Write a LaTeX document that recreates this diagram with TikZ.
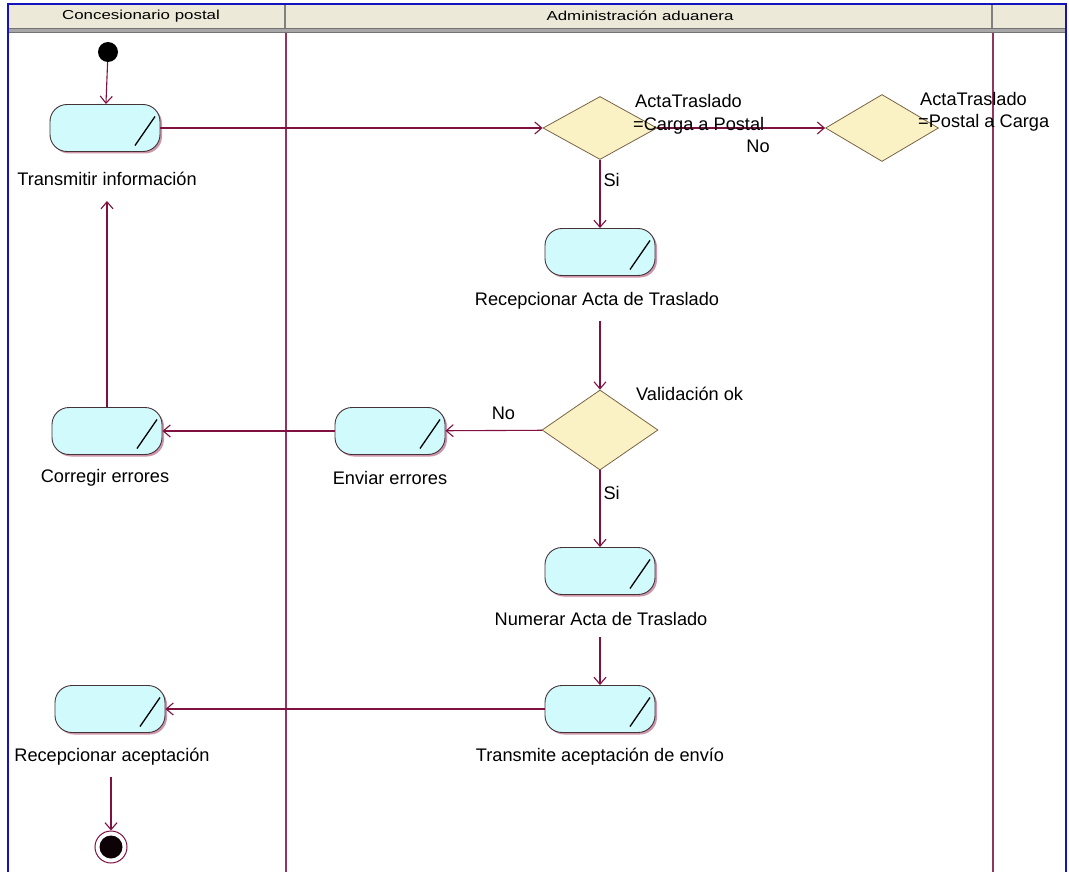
\documentclass[tikz,border=0pt]{standalone}
\usepackage{fontspec}
\setmainfont{Liberation Sans}
\usetikzlibrary{shapes.geometric,arrows.meta,shadows}
\definecolor{edgecol}{RGB}{128,16,64}
\definecolor{actfill}{RGB}{208,250,252}
\definecolor{actline}{RGB}{70,50,55}
\definecolor{shadowpink}{RGB}{205,150,170}
\definecolor{decfill}{RGB}{250,242,196}
\definecolor{decline}{RGB}{120,100,70}
\definecolor{headfill}{RGB}{236,233,216}
\definecolor{bordblue}{RGB}{20,20,190}
\tikzset{
  act/.style={draw=actline, fill=actfill, rounded corners=17pt, minimum width=110pt, minimum height=47pt, inner sep=0pt, line width=0.9pt,
    general shadow={fill=shadowpink, shadow xshift=2pt, shadow yshift=-2pt},
    path picture={\draw[line width=1.3pt,black] ([xshift=-25pt,yshift=6pt]path picture bounding box.south east) -- ([xshift=-5pt,yshift=-12pt]path picture bounding box.north east);}},
  dec/.style={diamond, draw=decline, fill=decfill, inner sep=0pt, line width=0.8pt},
  lab/.style={inner sep=1pt, font=\fontsize{18.2}{20}\selectfont},
  elab/.style={inner sep=0pt, font=\fontsize{18.2}{20}\selectfont},
  edge/.style={draw=edgecol, line width=1.1pt, -{Straight Barb[length=7pt,width=12pt]}},
  hd/.style={font=\fontsize{13}{15}\selectfont, inner sep=0pt}
}
\begin{document}
\begin{tikzpicture}[x=1pt,y=-1pt]
\useasboundingbox (0,0) rectangle (1069,872);
\fill[white] (0,0) rectangle (1069,872);
% header
\fill[headfill] (8,4) rectangle (1066,28);
\fill[gray!70] (8,28) rectangle (1066,33);
\draw[gray!90!black, line width=1pt] (8,28.5) -- (1066,28.5);
\draw[gray!90!black, line width=1pt] (8,32.5) -- (1066,32.5);
\draw[gray, line width=1.5pt] (285,4) -- (285,28);
\draw[gray, line width=1.5pt] (992,4) -- (992,28);
\node[hd] (h1) at (141,16) {\scalebox{1.3}[1]{Concesionario postal}};
\node[hd] (h2) at (640,16) {\scalebox{1.3}[1]{Administración aduanera}};
% lanes
\draw[edgecol!85, line width=1.1pt] (286,33) -- (286,872);
\draw[edgecol!85, line width=1.1pt] (993,33) -- (993,872);
% border
\draw[bordblue, line width=2pt] (8,872) -- (8,4) -- (1066,4) -- (1066,872);
% nodes
\node[circle, fill=black, minimum size=20pt, inner sep=0pt] (init) at (108,52) {};
\node[act] (a1) at (105,128) {};
\node[lab] (l1) at (107,179) {Transmitir información};
\node[dec, minimum width=114pt, minimum height=63pt] (d1) at (600,128) {};
\node[dec, minimum width=113pt, minimum height=67pt] (d2) at (882,128) {};
\node[act] (a2) at (600,252) {};
\node[lab] (l2) at (597,301) {Recepcionar Acta de Traslado};
\node[dec, minimum width=116pt, minimum height=80pt] (d3) at (600,430) {};
\node[act] (a3) at (390,431) {};
\node[lab] (l3) at (390,478) {Enviar errores};
\node[act] (a4) at (107,431) {};
\node[lab] (l4) at (105,478) {Corregir errores};
\node[act] (a5) at (600,571) {};
\node[lab] (l5) at (601,619) {Numerar Acta de Traslado};
\node[act] (a6) at (600,709) {};
\node[lab] (l6) at (600,757) {Transmite aceptación de envío};
\node[act] (a7) at (110,709) {};
\node[lab] (l7) at (112,757) {Recepcionar aceptación};
\node[circle, draw=edgecol, fill=white, minimum size=32pt, inner sep=0pt, line width=1pt] (fin) at (111,847) {};
\fill[black!90!edgecol] (fin.center) circle (11.5pt);
% edges
\draw[edge] (init) -- (a1);
\draw[edge] (a1) -- (d1);
\draw[edge] (d1) -- node[elab, pos=0.6, below=11pt] (no1) {No} (d2);
\draw[edge] (d1) -- node[elab, pos=0.3, right=3pt] (si1) {Si} (a2);
\draw[edge] (d3.north |- l2.south) ++(0,10) -- (d3.north);
\draw[edge] (d3) -- node[elab, pos=0.4, above=10pt] (no2) {No} (a3);
\draw[edge] (a3) -- (a4);
\draw[edge] (a4) -- ([yshift=-14pt]a4.north |- l1.south);
\draw[edge] (d3) -- node[elab, pos=0.3, right=3pt] (si2) {Si} (a5);
\draw[edge] (a6.north |- l5.south) ++(0,10) -- (a6.north);
\draw[edge] (a6) -- (a7);
\draw[edge] (fin.north |- l7.south) ++(0,10) -- (fin.north);
% decision labels
\node[elab, anchor=base west] (t1) at (635,108) {ActaTraslado};
\node[elab, anchor=base west] (t2) at (633,131) {=Carga a Postal};
\node[elab, anchor=base west] (t3) at (920,106) {ActaTraslado};
\node[elab, anchor=base west] (t4) at (918,128) {=Postal a Carga};
\node[elab, anchor=base west] (t5) at (636,400) {Validación ok};
\end{tikzpicture}
\end{document}
